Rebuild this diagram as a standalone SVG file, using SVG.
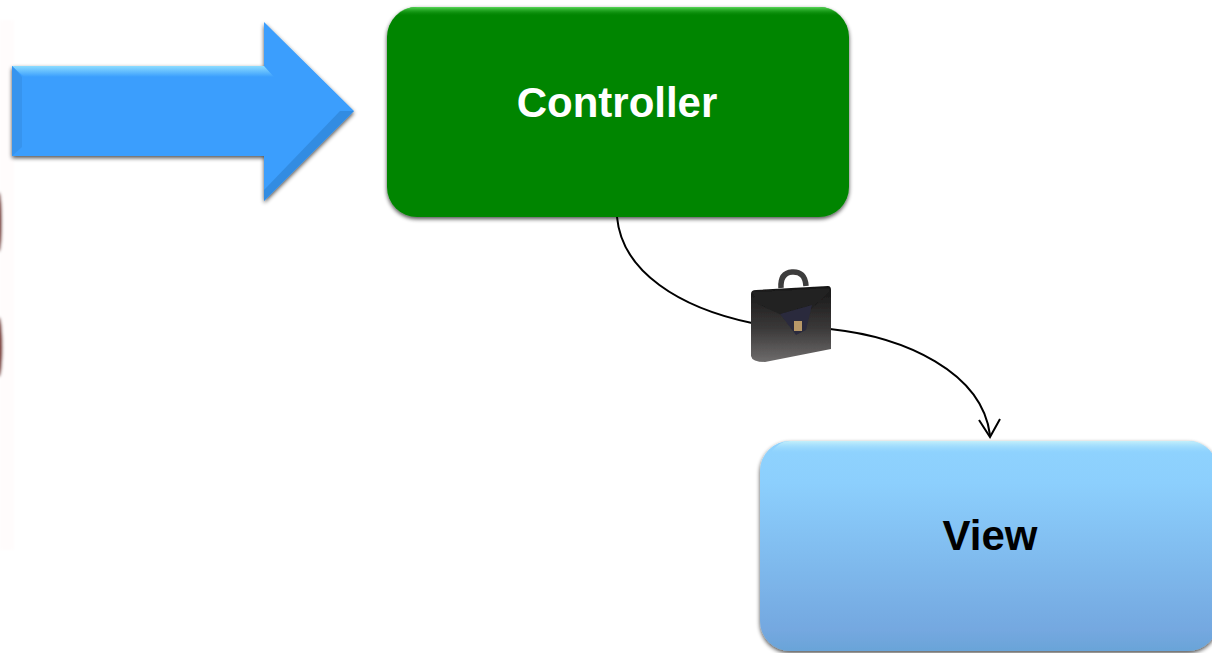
<svg xmlns="http://www.w3.org/2000/svg" width="1212" height="653" viewBox="0 0 1212 653">
<style>
.lbl{font-family:"Liberation Sans",Arial,sans-serif;font-weight:700;font-size:42px;text-anchor:middle}
.wire{fill:none;stroke:#000;stroke-width:2}
</style>
<defs>
<filter id="shadow" x="-5%" y="-5%" width="110%" height="112%"><feGaussianBlur in="SourceAlpha" stdDeviation="2"/><feOffset dy="2"/><feComponentTransfer><feFuncA type="linear" slope=".7"/></feComponentTransfer><feMerge><feMergeNode/><feMergeNode in="SourceGraphic"/></feMerge></filter>
<filter id="soft"><feGaussianBlur stdDeviation="1.5"/></filter>
<filter id="soft2"><feGaussianBlur stdDeviation="0.7"/></filter>
<linearGradient id="viewFill" x1="0" y1="0" x2="0" y2="1"><stop offset="0" stop-color="#8fd3fe"/><stop offset=".2" stop-color="#8ccffd"/><stop offset=".9" stop-color="#74a8e0"/><stop offset="1" stop-color="#6aa4d8"/></linearGradient>
<linearGradient id="viewTop" x1="0" y1="0" x2="0" y2="1"><stop offset="0" stop-color="#c4f0fb"/><stop offset="1" stop-color="#8fd3fe" stop-opacity="0"/></linearGradient>
<linearGradient id="ctrlTop" x1="0" y1="0" x2="0" y2="1"><stop offset="0" stop-color="#58d858"/><stop offset="1" stop-color="#058505" stop-opacity="0"/></linearGradient>
<linearGradient id="bag" x1="0" y1="0" x2="0" y2="1"><stop offset="0" stop-color="#161616"/><stop offset=".55" stop-color="#3a3838"/><stop offset="1" stop-color="#6e6c6c"/></linearGradient>
<linearGradient id="arrowTop" x1="0" y1="0" x2="0" y2="1"><stop offset="0" stop-color="#8cdcff"/><stop offset="1" stop-color="#3a9efd"/></linearGradient>
</defs>
<g id="edge-stain" filter="url(#soft)">
<rect x="0" y="20" width="14" height="530" fill="#fffafa" opacity=".5"/>
<ellipse cx="-1" cy="222" rx="3" ry="30" fill="#7a3a34"/>
<ellipse cx="-1" cy="347" rx="3.5" ry="30" fill="#7a3a34"/>
</g>
<g id="connectors">
<path class="wire" d="M617 217C622 272 680 308 752 323"/>
<path class="wire" d="M830 329C905 337 982 372 990 435"/>
<path class="wire" d="M979 420L990 437L1000 419"/>
</g>
<g id="arrow">
<path filter="url(#shadow)" d="M12 66H264V22L354 111L264 201V156H12Z" fill="#3a9efd"/>
<path d="M12 66H264L274 77H24Z" fill="url(#arrowTop)"/>
<path d="M12 66L22 77V147L12 156Z" fill="#3794ee"/>
<path d="M354 111L264 201L264 190L340 111Z" fill="#2f85d6" opacity=".7"/>
</g>
<g id="controller">
<rect x="387" y="7" width="462" height="210" rx="30" fill="#058505" filter="url(#shadow)"/>
<path d="M417 7H819Q833 7 841 16H395Q403 7 417 7Z" fill="url(#ctrlTop)"/>
<text class="lbl" x="617" y="117" fill="#fff">Controller</text>
</g>
<g id="view">
<rect x="760" y="441" width="458" height="210" rx="30" fill="url(#viewFill)" filter="url(#shadow)"/>
<path d="M790 441H1188Q1204 441 1212 454H770Q778 441 790 441Z" fill="url(#viewTop)"/>
<text class="lbl" x="990" y="550" fill="#000">View</text>
</g>
<g id="briefcase" filter="url(#soft2)">
<path d="M781 288Q780 273 792 272Q805 271 806 286" fill="none" stroke="#3e3c3c" stroke-width="5.5"/>
<path d="M751 294Q751 290 756 290L828 286Q831 286 831 290V349L765 362Q752 362 751 356Z" fill="url(#bag)"/>
<path d="M752 292L829 288L830 292L797 322L758 304Z" fill="#202020"/>
<path d="M780 314L812 305L806 330L796 335Z" fill="#2a2a3c"/>
<rect x="794" y="321" width="8" height="10" fill="#b89868"/>
</g>
</svg>
